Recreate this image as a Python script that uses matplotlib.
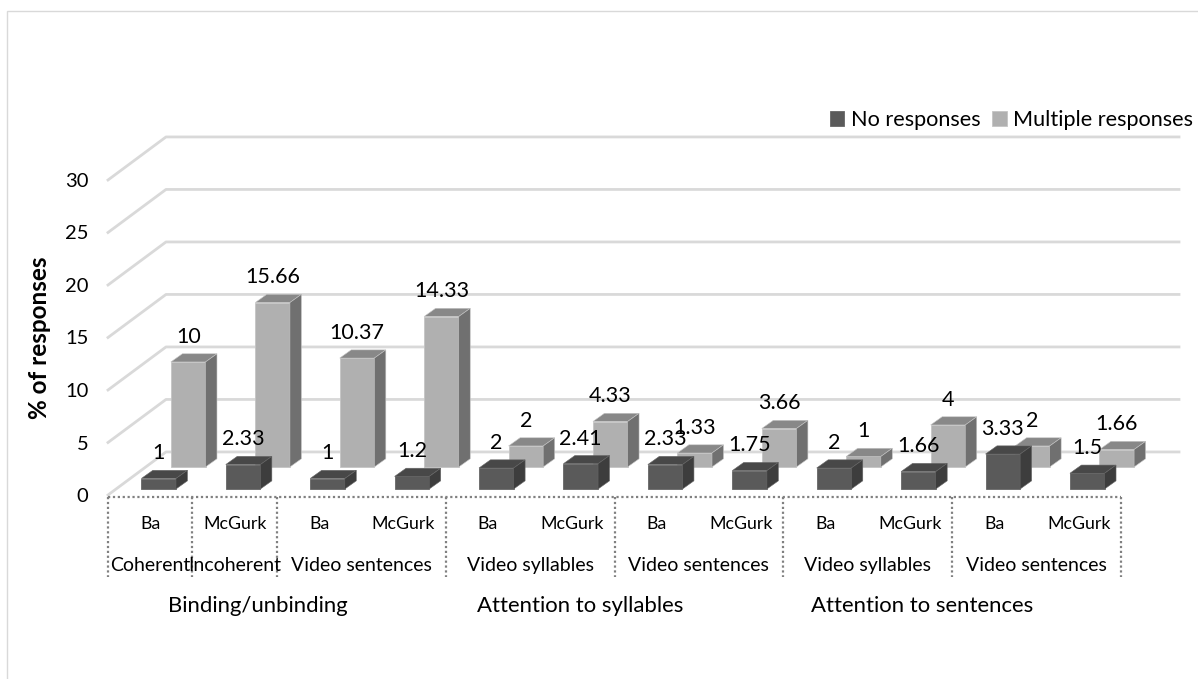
import matplotlib
matplotlib.use('Agg')
import matplotlib.pyplot as plt
from matplotlib.patches import Polygon, Rectangle

W, H = 1198, 679

conditions = ['Ba', 'McGurk'] * 6
no_responses = [1, 2.33, 1, 1.2, 2, 2.41, 2.33, 1.75, 2, 1.66, 3.33, 1.5]
multiple_responses = [10, 15.66, 10.37, 14.33, 2, 4.33, 1.33, 3.66, 1, 4, 2, 1.66]
stimuli = ['Coherent', 'Incoherent', 'Video sentences', 'Video syllables',
           'Video sentences', 'Video syllables', 'Video sentences']
stimuli_pos = [0, 1, 2.5, 4.5, 6.5, 8.5, 10.5]
blocks = ['Binding/unbinding', 'Attention to syllables', 'Attention to sentences']
blocks_pos = [1.28, 5.09, 9.14]
separators = [-0.5, 0.5, 1.5, 3.5, 5.5, 7.5, 9.5, 11.5]
y_ticks = [0, 5, 10, 15, 20, 25, 30]

plt.rcParams['font.family'] = ['Lato', 'DejaVu Sans']

fig = plt.figure(figsize=(W / 100, H / 100), dpi=100)
ax = fig.add_axes([108 / W, (H - 495) / H, 1013 / W, 315 / H])
ax.set_xlim(-0.5, 11.5)
ax.set_ylim(0, 30)
for s in ax.spines.values():
    s.set_visible(False)

# chart area border, only top and left show
fig.add_artist(Rectangle((7 / W, -0.1), 1.2, 0.1 + (H - 11) / H, transform=fig.transFigure,
                         fill=False, edgecolor='#d9d9d9', linewidth=1))

# walls and floor
wall_dx, wall_dy = 0.687, 4.1
for v in y_ticks:
    ax.plot([-0.5, -0.5 + wall_dx, 11.5 + wall_dx], [v, v + wall_dy, v + wall_dy],
            color='#d9d9d9', linewidth=2, clip_on=False, zorder=1)


def draw_bars(values, offset, base, face, top, side, edge, label):
    width, dx, dy = 0.41, 0.136, 0.78
    xs = [i + offset for i in range(len(values))]
    bars = ax.bar(xs, values, width=width, bottom=base, color=face, edgecolor=edge,
                  linewidth=0.6, clip_on=False, zorder=3, label=label)
    for x, v in zip(xs, values):
        l, r = x - width / 2, x + width / 2
        y = base + v
        ax.add_patch(Polygon([(l, y), (r, y), (r + dx, y + dy), (l + dx, y + dy)], facecolor=top,
                             edgecolor=edge, linewidth=0.4, clip_on=False, zorder=3))
        ax.add_patch(Polygon([(r, base), (r + dx, base + dy), (r + dx, y + dy), (r, y)], facecolor=side,
                             edgecolor=edge, linewidth=0.4, clip_on=False, zorder=3))
        ax.text(x, y + 2.4, f'{v:g}', ha='center', va='center', fontsize=15.5, color='black', zorder=6)
    return bars


light = draw_bars(multiple_responses, 0.45, 2.67, '#b0b0b0', '#888888', '#707070', '#c4c4c4',
                  'Multiple responses')
dark = draw_bars(no_responses, 0.1, 0.57, '#5a5a5a', '#484848', '#3d3d3d', '#666666', 'No responses')

# axis ticks
ax.set_yticks(y_ticks)
ax.tick_params(axis='y', length=0, pad=14, labelsize=14.5, labelcolor='black')
ax.set_xticks(range(len(conditions)))
ax.set_xticklabels(conditions)
ax.tick_params(axis='x', length=0, pad=15, labelsize=12.8, labelcolor='black')
ax.set_ylabel('% of responses', fontsize=17.5, fontweight='bold')
ax.yaxis.set_label_coords(-57 / 1013, 0.50)

# multi level category axis
dots = (0, (1, 1.2))
ax.plot([-0.5, 11.5], [-0.2, -0.2], color='#808080', linewidth=1.6, linestyle=dots, clip_on=False)
for s in separators:
    ax.plot([s, s], [-0.2, -7.8], color='#808080', linewidth=1.6, linestyle=dots, clip_on=False)
for x, t in zip(stimuli_pos, stimuli):
    ax.text(x, -6.7, t, ha='center', va='center', fontsize=14, color='black')
for x, t in zip(blocks_pos, blocks):
    ax.text(x, -10.6, t, ha='center', va='center', fontsize=15.9, color='black')

ax.legend(handles=[dark, light], loc='center right', bbox_to_anchor=(1193 / W, (H - 120) / H),
          bbox_transform=fig.transFigure, ncol=2, frameon=False, fontsize=15.6, handlelength=0.65,
          handleheight=0.65, handletextpad=0.3, columnspacing=0.55, borderpad=0, borderaxespad=0)

fig.savefig('out.png', dpi=100)
